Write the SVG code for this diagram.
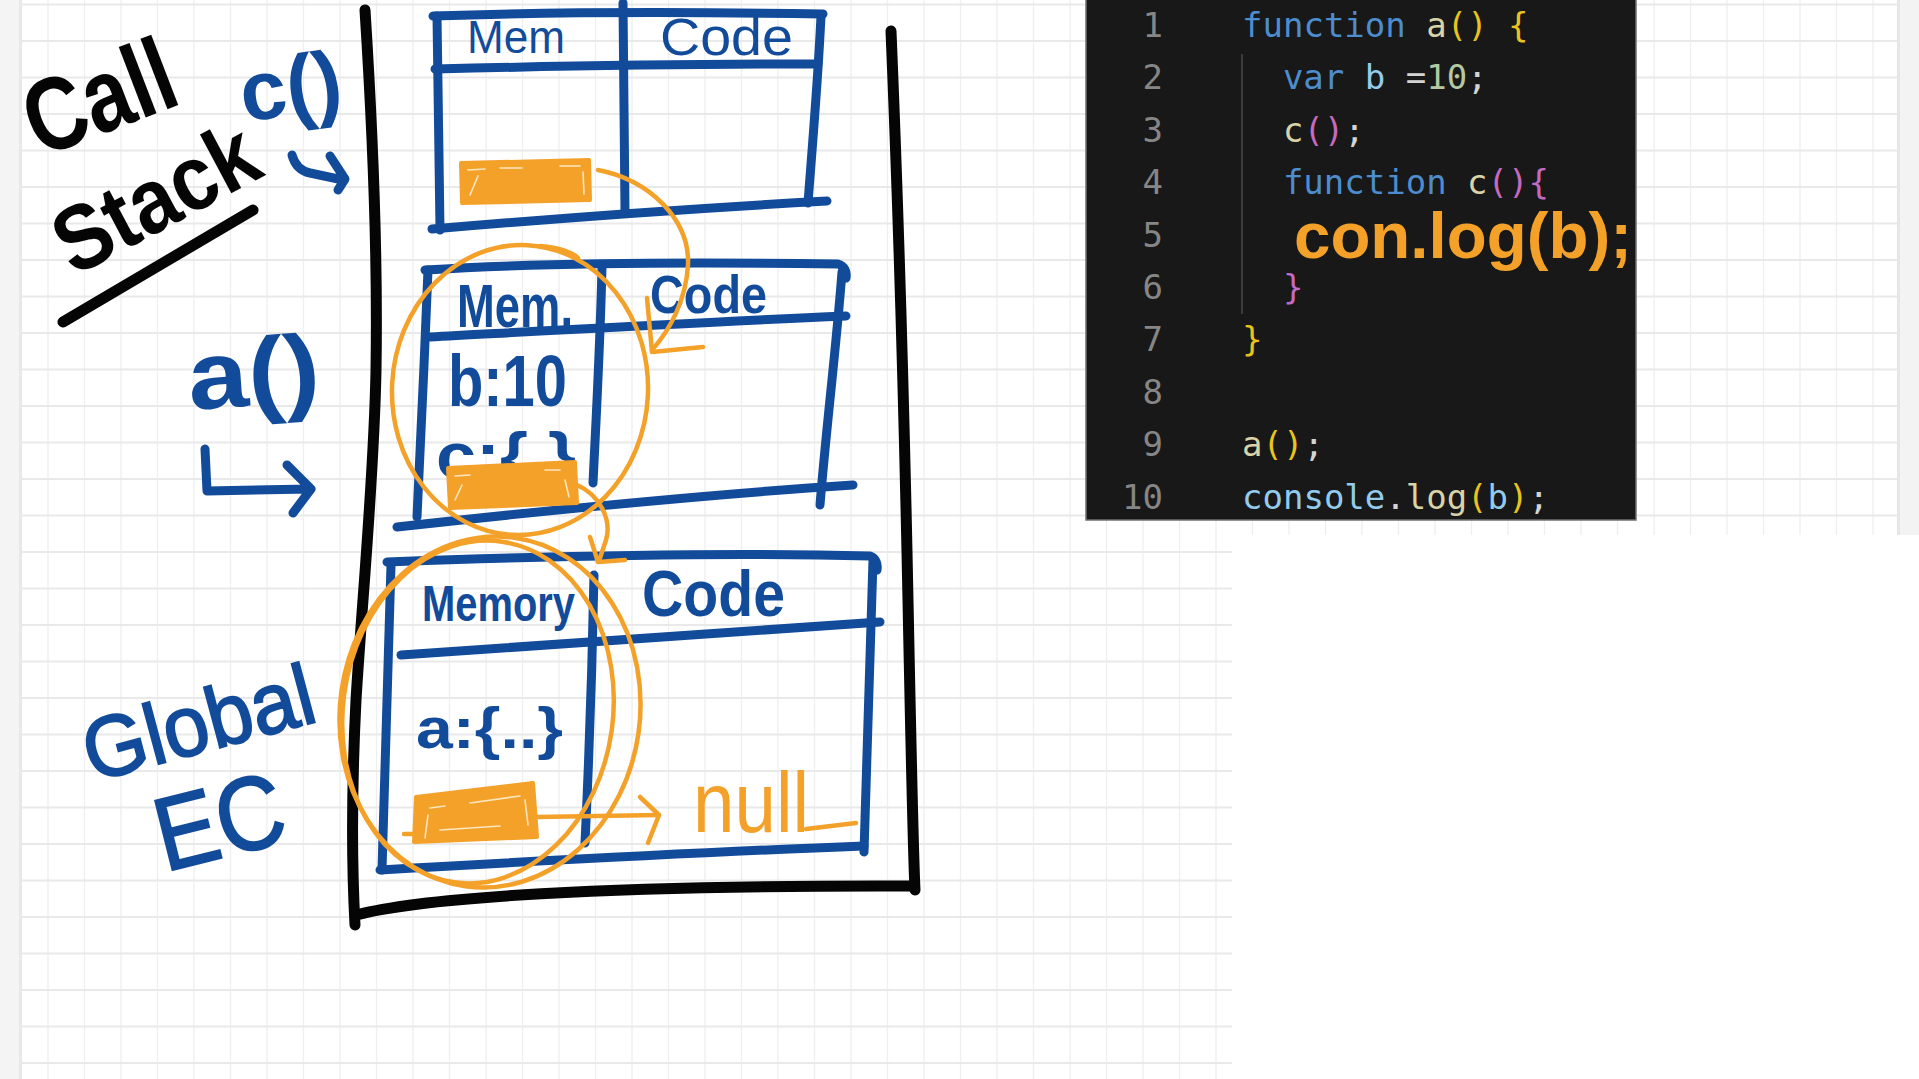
<svg xmlns="http://www.w3.org/2000/svg" width="1919" height="1079" viewBox="0 0 1919 1079">
<style>
.gv{stroke:#efefef;stroke-width:1.3;fill:none}
.gh{stroke:#e9e9e9;stroke-width:1.8;fill:none}
.blk{stroke:#050505;stroke-width:11;fill:none;stroke-linecap:round;stroke-linejoin:round}
.blu{stroke:#134b9b;stroke-width:9;fill:none;stroke-linecap:round;stroke-linejoin:round}
.org{stroke:#f4a12a;stroke-width:4.5;fill:none;stroke-linecap:round;stroke-linejoin:round}
.orgfill{fill:#f4a12a;stroke:#f4a12a;stroke-width:4;stroke-linejoin:round}
.hl{stroke:#fde6c0;stroke-width:1.6;fill:none;stroke-linecap:round}
.hand{font-family:"Liberation Sans","DejaVu Sans",sans-serif}
.bt{fill:#134b9b}
.kt{fill:#050505}
.ot{fill:#f4a12a}
.code{font-family:"DejaVu Sans Mono","Liberation Mono",monospace;font-size:34px}
.ln{fill:#868686;text-anchor:end}
.kw{fill:#4d8dcd}.fn{fill:#d8d4a8}.yb{fill:#e9c41e}.pb{fill:#c56ac0}.vb{fill:#93cbec}.wt{fill:#d4d4d4}.nm{fill:#b2c9a2}
</style>
<rect x="0" y="0" width="1919" height="1079" fill="#ffffff"/>
<g id="grid">
<path class="gv" d="M48,0V1079M84.5,0V1079M121,0V1079M157.5,0V1079M194,0V1079M230.5,0V1079M267,0V1079M303.5,0V1079M340,0V1079M376.5,0V1079M413,0V1079M449.5,0V1079M486,0V1079M522.5,0V1079M559,0V1079M595.5,0V1079M632,0V1079M668.5,0V1079M705,0V1079M741.5,0V1079M778,0V1079M814.5,0V1079M851,0V1079M887.5,0V1079M924,0V1079M960.5,0V1079M997,0V1079M1033.5,0V1079M1070,0V1079M1106.5,0V1079M1143,0V1079M1179.5,0V1079M1216,0V1079M1252.5,0V535M1289,0V535M1325.5,0V535M1362,0V535M1398.5,0V535M1435,0V535M1471.5,0V535M1508,0V535M1544.5,0V535M1581,0V535M1617.5,0V535M1654,0V535M1690.5,0V535M1727,0V535M1763.5,0V535M1800,0V535M1836.5,0V535M1873,0V535"/>
<path class="gh" d="M22,4.5H1897M22,41H1897M22,77.5H1897M22,114H1897M22,150.5H1897M22,187H1897M22,223.5H1897M22,260H1897M22,296.5H1897M22,333H1897M22,369.5H1897M22,406H1897M22,442.5H1897M22,479H1897M22,515.5H1897M22,552H1232M22,588.5H1232M22,625H1232M22,661.5H1232M22,698H1232M22,734.5H1232M22,771H1232M22,807.5H1232M22,844H1232M22,880.5H1232M22,917H1232M22,953.5H1232M22,990H1232M22,1026.5H1232M22,1063H1232"/>
<rect x="0" y="0" width="21" height="1079" fill="#f4f4f4"/>
<rect x="19" y="0" width="3" height="1079" fill="#e8e8e8"/>
<rect x="1897" y="0" width="22" height="535" fill="#f3f3f3"/>
<rect x="1897" y="0" width="3" height="535" fill="#e6e6e6"/>
</g>

<g id="call-stack">
<path class="blk" d="M365,10 C372,120 378,250 376,370 C374,480 362,600 356,700 C351,800 352,870 355,925"/>
<path class="blk" d="M356,915 C420,898 600,885 912,886"/>
<path class="blk" d="M891,31 C898,200 905,450 908,600 C911,750 913,850 915,890"/>
</g>

<g id="label-call-stack">
<text class="hand kt" font-size="104" font-weight="bold" x="40" y="158" textLength="154" lengthAdjust="spacingAndGlyphs" transform="rotate(-21 40 158)">Call</text>
<text class="hand kt" font-size="92" font-weight="bold" x="74" y="277" textLength="218" lengthAdjust="spacingAndGlyphs" transform="rotate(-28 74 277)">Stack</text>
<path class="blk" d="M63,322 L253,210" stroke-width="10"/>
</g>

<g id="label-c">
<text class="hand bt" font-size="84" font-weight="bold" x="244" y="122" textLength="102" lengthAdjust="spacingAndGlyphs" transform="rotate(-8 244 122)">c()</text>
<path class="blu" stroke-width="10" d="M292,155 Q296,170 310,173 L343,180 M330,156 L345,179 L338,190"/>
</g>

<g id="label-a">
<text class="hand bt" font-size="96" font-weight="bold" x="190" y="410" textLength="132" lengthAdjust="spacingAndGlyphs" transform="rotate(-4 190 410)">a()</text>
<path class="blu" stroke-width="11" d="M205,449 L207,491 L310,489 M287,465 L311,489 L293,513"/>
</g>

<g id="label-global">
<text class="hand bt" font-size="86" x="92" y="782" textLength="236" lengthAdjust="spacingAndGlyphs" stroke="#134b9b" stroke-width="2" transform="rotate(-15 92 782)">Global</text>
<text class="hand bt" font-size="104" x="165" y="872" textLength="130" lengthAdjust="spacingAndGlyphs" stroke="#134b9b" stroke-width="2" transform="rotate(-14 165 872)">EC</text>
</g>

<g id="frame-c">
<path class="blu" d="M433,16 C550,12 700,12 823,14"/>
<path class="blu" d="M437,16 C438,80 439,160 440,230"/>
<path class="blu" d="M432,229 C560,218 700,208 827,201"/>
<path class="blu" d="M821,16 C818,80 812,150 808,203"/>
<path class="blu" d="M435,69 C560,66 700,64 818,64"/>
<path class="blu" d="M623,3 C624,80 625,150 625,212"/>
<text class="hand bt" font-size="46" x="467" y="53" textLength="98" lengthAdjust="spacingAndGlyphs">Mem</text>
<text class="hand bt" font-size="51" x="660" y="55" textLength="133" lengthAdjust="spacingAndGlyphs">Code</text>
<path class="orgfill" d="M461,163 L589,160 L590,200 L462,203 Z"/>
<path class="hl" d="M468,170 L485,169 M500,168 L522,168 M560,166 L580,166 M470,195 L478,176 M583,172 L584,194"/>
</g>

<g id="frame-a">
<path class="blu" d="M425,270 C550,262 700,262 838,264 C845,266 847,272 846,278"/>
<path class="blu" d="M428,270 C425,350 420,450 417,517"/>
<path class="blu" d="M397,527 C550,510 700,495 853,485"/>
<path class="blu" d="M842,272 C836,350 826,430 820,505"/>
<path class="blu" d="M430,337 C560,330 700,322 846,316"/>
<path class="blu" d="M602,267 C600,350 596,420 593,483"/>
<text class="hand bt" font-size="62" font-weight="bold" x="457" y="327" textLength="116" lengthAdjust="spacingAndGlyphs">Mem.</text>
<text class="hand bt" font-size="53" font-weight="bold" x="650" y="313" textLength="117" lengthAdjust="spacingAndGlyphs">Code</text>
<text class="hand bt" font-size="72" font-weight="bold" x="448" y="406" textLength="119" lengthAdjust="spacingAndGlyphs">b:10</text>
<text class="hand bt" font-size="64" font-weight="bold" x="436" y="478" textLength="140" lengthAdjust="spacingAndGlyphs">c:{ }</text>
<path class="orgfill" d="M448,468 L575,462 L577,503 L450,508 Z"/>
<path class="hl" d="M455,476 L470,475 M545,470 L560,470 M455,500 L462,485 M565,480 L569,497"/>
</g>

<g id="frame-global">
<path class="blu" d="M387,562 C550,556 720,552 870,556 C876,558 878,564 877,570"/>
<path class="blu" d="M391,565 C388,680 385,780 382,870"/>
<path class="blu" d="M380,870 C520,862 700,852 864,846"/>
<path class="blu" d="M873,560 C870,680 867,780 864,852"/>
<path class="blu" d="M401,655 C500,648 600,640 880,622"/>
<path class="blu" d="M594,575 C592,680 588,780 585,843"/>
<text class="hand bt" font-size="50" font-weight="bold" x="422" y="621" textLength="153" lengthAdjust="spacingAndGlyphs">Memory</text>
<text class="hand bt" font-size="64" font-weight="bold" x="642" y="616" textLength="143" lengthAdjust="spacingAndGlyphs">Code</text>
<text class="hand bt" font-size="58" font-weight="bold" x="416" y="748" textLength="147" lengthAdjust="spacingAndGlyphs">a:{..}</text>
<path class="orgfill" d="M416,797 L533,783 L537,837 L414,842 Z"/>
<path class="org" d="M404,834 L416,834"/>
<path class="hl" d="M430,808 L445,806 M470,803 L520,796 M440,830 L500,826 M425,838 L428,815 M525,800 L528,825"/>
<text class="hand ot" font-size="86" x="693" y="832" textLength="116" lengthAdjust="spacingAndGlyphs">null</text>
<path class="org" stroke-width="6" d="M806,829 L856,823"/>
</g>

<g id="connectors">
<path class="org" d="M598,170 C650,180 690,220 688,265 C686,300 670,330 652,350"/>
<path class="org" d="M647,298 L652,352 L703,347"/>
<path class="org" d="M577,485 C600,495 612,520 606,540 L599,561"/>
<path class="org" d="M590,537 L598,562 L625,560"/>
<path class="org" d="M537,817 L659,815"/>
<path class="org" d="M640,797 L659,815 L648,843"/>
<ellipse class="org" cx="520" cy="390" rx="128" ry="145" transform="rotate(3 520 390)"/>
<path class="org" d="M540,246 C560,248 572,252 578,258"/>
<ellipse class="org" cx="490" cy="712" rx="150" ry="176" transform="rotate(8 490 712)"/>
<ellipse class="org" cx="478" cy="712" rx="135" ry="172" stroke-width="3.5" transform="rotate(8 478 712)"/>
</g>

<g id="code-panel">
<rect x="1086" y="-1" width="550" height="521" fill="#181818" stroke="#707070" stroke-width="1.5"/>
<path d="M1242,54 V314" stroke="#3c3c3c" stroke-width="2"/>
<g class="code">
<text class="ln" x="1163" y="37">1</text>
<text class="ln" x="1163" y="89.4">2</text>
<text class="ln" x="1163" y="141.8">3</text>
<text class="ln" x="1163" y="194.2">4</text>
<text class="ln" x="1163" y="246.6">5</text>
<text class="ln" x="1163" y="299">6</text>
<text class="ln" x="1163" y="351.4">7</text>
<text class="ln" x="1163" y="403.8">8</text>
<text class="ln" x="1163" y="456.2">9</text>
<text class="ln" x="1163" y="508.6">10</text>
<text y="37"><tspan class="kw" x="1242">function</tspan><tspan class="fn" x="1426.2">a</tspan><tspan class="yb" x="1446.7">()</tspan><tspan class="yb" x="1508.1">{</tspan></text>
<text y="89.4"><tspan class="kw" x="1282.9">var</tspan><tspan class="vb" x="1364.8">b</tspan><tspan class="wt" x="1405.7">=</tspan><tspan class="nm" x="1426.2">10</tspan><tspan class="wt" x="1467.1">;</tspan></text>
<text y="141.8"><tspan class="fn" x="1282.9">c</tspan><tspan class="pb" x="1303.4">()</tspan><tspan class="wt" x="1344.3">;</tspan></text>
<text y="194.2"><tspan class="kw" x="1282.9">function</tspan><tspan class="fn" x="1467.1">c</tspan><tspan class="pb" x="1487.6">(){</tspan></text>
<text y="299"><tspan class="pb" x="1282.9">}</tspan></text>
<text y="351.4"><tspan class="yb" x="1242">}</tspan></text>
<text y="456.2"><tspan class="fn" x="1242">a</tspan><tspan class="yb" x="1262.5">()</tspan><tspan class="wt" x="1303.4">;</tspan></text>
<text y="508.6"><tspan class="vb" x="1242">console</tspan><tspan class="wt" x="1385.3">.</tspan><tspan class="fn" x="1405.7">log</tspan><tspan class="yb" x="1467.1">(</tspan><tspan class="vb" x="1487.6">b</tspan><tspan class="yb" x="1508.1">)</tspan><tspan class="wt" x="1528.6">;</tspan></text>
</g>
<text class="hand ot" font-size="64" font-weight="bold" x="1294" y="258" textLength="338" lengthAdjust="spacingAndGlyphs">con.log(b);</text>
</g>
</svg>
